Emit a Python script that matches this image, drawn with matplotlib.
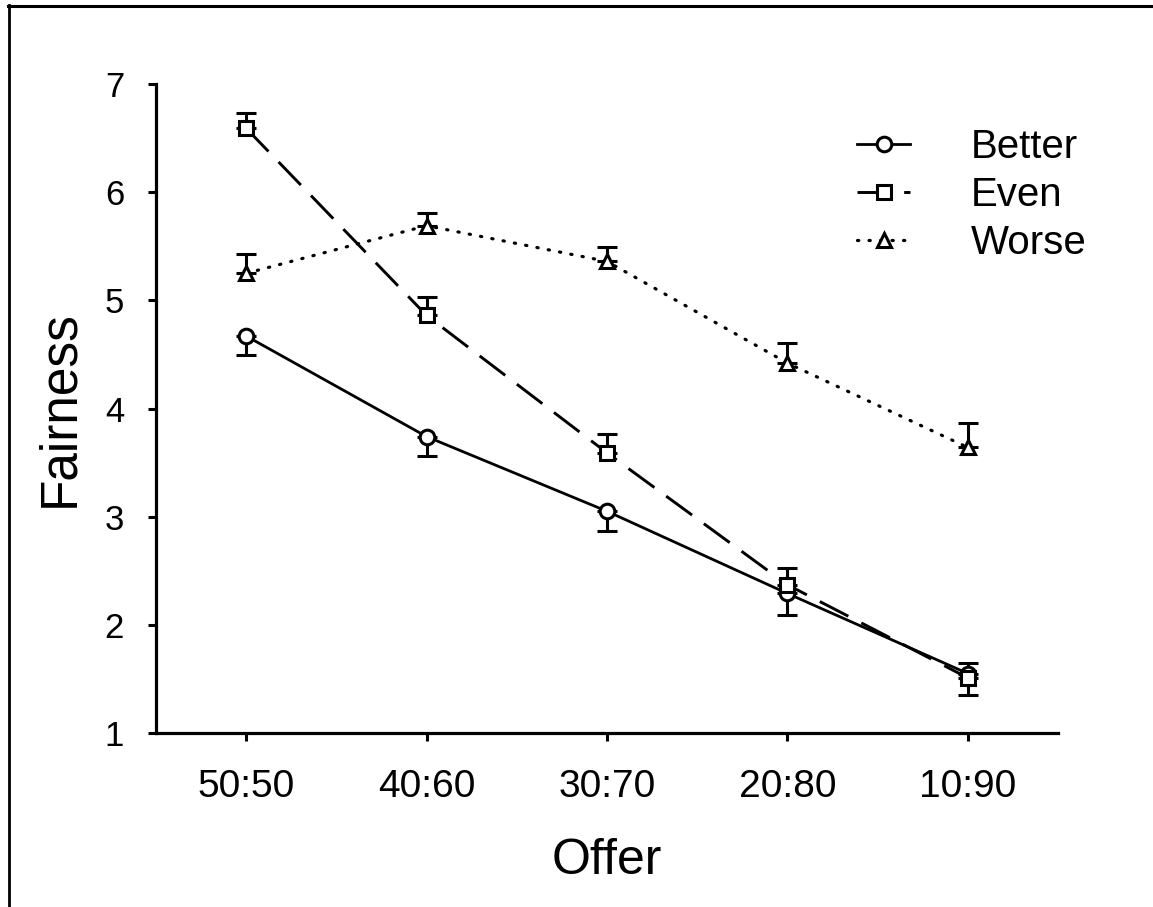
import numpy as np
import matplotlib
matplotlib.use('Agg')
import matplotlib.pyplot as plt
from matplotlib.lines import Line2D

plt.rcParams['font.family'] = ['Liberation Sans', 'DejaVu Sans']

offers = ['50:50', '40:60', '30:70', '20:80', '10:90']

better = [4.67, 3.74, 3.05, 2.29, 1.55]
better_err = [0.18, 0.18, 0.18, 0.20, 0.20]   # drawn below only

even = [6.59, 4.86, 3.59, 2.37, 1.51]
even_err = [0.14, 0.17, 0.17, 0.16, 0.14]     # drawn above only

worse = [5.25, 5.69, 5.36, 4.42, 3.64]
worse_err = [0.18, 0.12, 0.13, 0.19, 0.23]    # drawn above only

W, H = 1153, 907
fig = plt.figure(figsize=(W / 100, H / 100), dpi=100)
ax = fig.add_axes([156 / W, 1 - 733 / H, (1058 - 156) / W, (733 - 84) / H])

x = np.arange(len(offers))
zeros = np.zeros(len(offers))

series = [
    ('Better', better, [better_err, zeros], 'o', '-', 2.0),
    ('Even', even, [zeros, even_err], 's', (0, (11, 5)), 2.1),
    ('Worse', worse, [zeros, worse_err], '^', (0, (0.4, 3.2)), 2.3),
]

for label, vals, err, marker, ls, lw in series:
    ax.errorbar(x, vals, yerr=err, fmt='none', ecolor='black', elinewidth=2.2,
                capsize=7.5, capthick=2.2, zorder=2)
    ax.plot(x, vals, color='black', linestyle=ls, linewidth=lw,
            dash_capstyle='round' if label == 'Worse' else 'butt',
            marker=marker, markersize=10.5, markerfacecolor='white',
            markeredgecolor='black', markeredgewidth=2.2, label=label, zorder=3)

ax.set_xlim(-0.5, 4.5)
ax.set_ylim(1, 7)
ax.set_xticks(x)
ax.set_xticklabels(offers)
ax.set_yticks(range(1, 8))

for s in ['top', 'right']:
    ax.spines[s].set_visible(False)
for s in ['left', 'bottom']:
    ax.spines[s].set_linewidth(2.3)

ax.tick_params(axis='x', direction='out', length=6, width=2.2, labelsize=28, pad=20)
ax.tick_params(axis='y', direction='out', length=6, width=2.2, labelsize=25, pad=17)

ax.set_xlabel('Offer', fontsize=36, labelpad=24)
ax.set_ylabel('Fairness', fontsize=37, labelpad=15)

leg = ax.legend(loc='upper left', bbox_to_anchor=(857 / W, 1 - 128 / H),
                bbox_transform=fig.transFigure, frameon=False, fontsize=29,
                handlelength=1.32, handletextpad=1.5, labelspacing=0.25,
                borderpad=0, borderaxespad=0)

# outer frame (left and top edges only)
fig.add_artist(Line2D([8.7 / W, 8.7 / W], [0, 1 - 5 / H], transform=fig.transFigure,
                      color='black', linewidth=2.0))
fig.add_artist(Line2D([8 / W, 1], [1 - 6 / H, 1 - 6 / H], transform=fig.transFigure,
                      color='black', linewidth=2.2))

fig.savefig('out.png', dpi=100)
